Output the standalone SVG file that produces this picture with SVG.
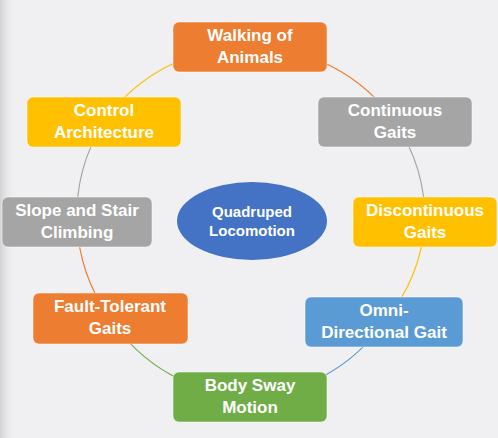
<svg xmlns="http://www.w3.org/2000/svg" width="498" height="438" viewBox="0 0 498 438">
<defs>
<linearGradient id="edge" x1="0" y1="0" x2="1" y2="0">
<stop offset="0" stop-color="#d2d2d4"/>
<stop offset="1" stop-color="#f0eff2" stop-opacity="0"/>
</linearGradient>
<style>
.box{stroke:#ffffff;stroke-opacity:0.5;stroke-width:1}
.t{font-family:"Liberation Sans",Arial,sans-serif;font-weight:bold;font-size:17px;fill:#ffffff;text-anchor:middle}
.e{font-family:"Liberation Sans",Arial,sans-serif;font-weight:bold;font-size:15px;fill:#ffffff;text-anchor:middle}
.c{fill:none;stroke-width:1.2}
</style>
</defs>
<rect width="498" height="438" fill="#f0eff2"/>
<rect width="16" height="438" fill="url(#edge)"/>
<g id="connectors">
<path class="c" stroke="#ed7d31" d="M250,47 A175,175 0 0 1 395,122"/>
<path class="c" stroke="#a5a5a5" d="M395,122 A175,175 0 0 1 425,222"/>
<path class="c" stroke="#ffc000" d="M425,222 A175,175 0 0 1 384,322"/>
<path class="c" stroke="#5b9bd5" d="M384,322 A175,175 0 0 1 250,397"/>
<path class="c" stroke="#70ad47" d="M250,397 A175,175 0 0 1 110,318"/>
<path class="c" stroke="#ed7d31" d="M110,318 A175,175 0 0 1 77,222"/>
<path class="c" stroke="#a5a5a5" d="M77,222 A175,175 0 0 1 104,122"/>
<path class="c" stroke="#ffc000" d="M104,122 A175,175 0 0 1 250,47"/>
</g>
<g id="center">
<ellipse cx="252" cy="221" rx="75" ry="39" fill="#4472c4"/>
<text class="e" x="252" y="217">Quadruped</text>
<text class="e" x="252" y="236">Locomotion</text>
</g>
<g id="walking">
<rect class="box" x="173" y="22" width="154" height="50" rx="6" fill="#ed7d31"/>
<text class="t" x="250" y="41">Walking of</text>
<text class="t" x="250" y="63">Animals</text>
</g>
<g id="continuous">
<rect class="box" x="318" y="97" width="154" height="50" rx="6" fill="#a5a5a5"/>
<text class="t" x="395" y="116">Continuous</text>
<text class="t" x="395" y="138">Gaits</text>
</g>
<g id="discontinuous">
<rect class="box" x="353" y="197" width="144" height="50" rx="6" fill="#ffc000"/>
<text class="t" x="425" y="216">Discontinuous</text>
<text class="t" x="425" y="238">Gaits</text>
</g>
<g id="omni">
<rect class="box" x="305" y="297" width="158" height="50" rx="6" fill="#5b9bd5"/>
<text class="t" x="384" y="316">Omni-</text>
<text class="t" x="384" y="338">Directional Gait</text>
</g>
<g id="bodysway">
<rect class="box" x="173" y="372" width="154" height="50" rx="6" fill="#70ad47"/>
<text class="t" x="250" y="391">Body Sway</text>
<text class="t" x="250" y="413">Motion</text>
</g>
<g id="fault">
<rect class="box" x="33" y="293" width="155" height="51" rx="6" fill="#ed7d31"/>
<text class="t" x="110" y="312">Fault-Tolerant</text>
<text class="t" x="110" y="334">Gaits</text>
</g>
<g id="slope">
<rect class="box" x="2" y="197" width="150" height="50" rx="6" fill="#a5a5a5"/>
<text class="t" x="77" y="216">Slope and Stair</text>
<text class="t" x="77" y="238">Climbing</text>
</g>
<g id="control">
<rect class="box" x="27" y="97" width="154" height="50" rx="6" fill="#ffc000"/>
<text class="t" x="104" y="116">Control</text>
<text class="t" x="104" y="138">Architecture</text>
</g>
</svg>
